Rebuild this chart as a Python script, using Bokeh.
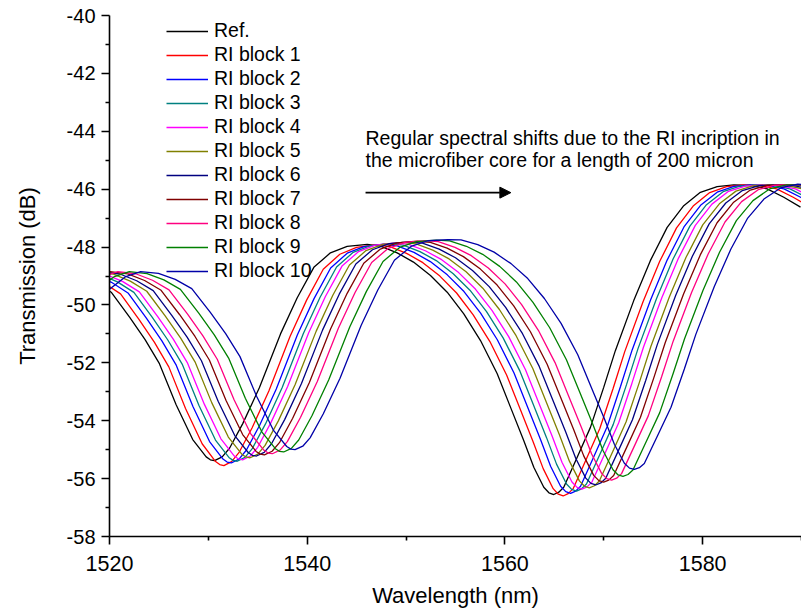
import numpy as np
from bokeh.plotting import figure
from bokeh.models import (FixedTicker, Legend, LegendItem, Label, Arrow,
                          NormalHead, Range1d)
from bokeh.embed import file_html
from bokeh.resources import INLINE

FONT = "Liberation Sans"

# ---------------- data ----------------
series_names = ["Ref.", "RI block 1", "RI block 2", "RI block 3", "RI block 4",
                "RI block 5", "RI block 6", "RI block 7", "RI block 8",
                "RI block 9", "RI block 10"]
series_colors = ["#000000", "#FF0000", "#0000FF", "#008080", "#FF00FF",
                 "#808000", "#000080", "#800000", "#FF0080", "#008000",
                 "#0000A8"]

# Reference spectrum (black curve), wavelength in nm / transmission in dB
ref_wl = [1511.5, 1513.5, 1515.0, 1516.8, 1518.5, 1520.17, 1522.03, 1523.6,
          1525.05, 1526.74, 1528.42, 1529.78, 1530.2, 1530.62, 1531.4, 1532.14,
          1533.48, 1535.17, 1537.3, 1538.99, 1540.67, 1542.35, 1544.04, 1546.07,
          1547.41, 1549.1, 1550.75, 1552.47, 1554.16, 1555.84, 1557.53, 1559.22,
          1560.56, 1561.91, 1562.92, 1563.93, 1564.45, 1564.94, 1565.45, 1565.95,
          1567.31, 1568.65, 1570.0, 1571.17, 1573.03, 1574.71, 1576.41, 1578.09,
          1579.77, 1581.47, 1583.15, 1584.83, 1586.53, 1588.21, 1589.9]
ref_tr = [-49.55, -49.02, -48.85, -48.95, -49.2, -49.56, -50.42, -51.2,
          -52.03, -53.45, -54.65, -55.25, -55.35, -55.38, -55.25, -54.95,
          -54.1, -52.85, -51.0, -49.75, -48.7, -48.2, -47.98, -47.91,
          -47.97, -48.2, -48.52, -48.98, -49.56, -50.31, -51.23, -52.38,
          -53.53, -54.69, -55.61, -56.30, -56.49, -56.55, -56.47, -56.30,
          -55.26, -54.23, -52.84, -51.58, -49.85, -48.47, -47.32, -46.57,
          -46.11, -45.91, -45.85, -45.87, -45.99, -46.28, -46.62]

# Spectral shift of every curve relative to Ref. (nm)
shift_nm = [0.0, 0.95, 1.7, 2.3, 2.85, 3.6, 4.25, 5.05, 5.85, 7.0, 8.15]
# Read levels of the features of every curve (dB)
dip1_tr = [-55.38, -55.55, -55.46, -55.40, -55.35, -55.28, -55.22, -55.18,
           -55.14, -55.08, -55.00]
peak1_tr = [-47.91, -47.92, -47.90, -47.88, -47.86, -47.84, -47.82, -47.80,
            -47.78, -47.76, -47.74]
dip2_tr = [-56.55, -56.60, -56.51, -56.43, -56.36, -56.32, -56.22, -56.12,
           -56.05, -55.92, -55.68]
# Positions of those features on the Ref. curve (nm)
feat_wl = [1515.0, 1530.62, 1546.07, 1564.94, 1583.15]

x_ticks = [1520, 1540, 1560, 1580]
x_minor = [1530, 1550, 1570, 1590]
y_ticks = [-58, -56, -54, -52, -50, -48, -46, -44, -42, -40]
y_minor = [-57, -55, -53, -51, -49, -47, -45, -43, -41]

note_lines = ["Regular spectral shifts due to the RI incription in",
              "the microfiber core for a length of 200 micron"]

# ---------------- figure ----------------
p = figure(width=801, height=613, output_backend="svg", toolbar_location=None,
           x_range=Range1d(1520, 1590), y_range=Range1d(-58, -40),
           min_border_left=109, min_border_right=0, min_border_top=15,
           min_border_bottom=77, background_fill_color="white",
           border_fill_color="white", outline_line_color=None)
p.xgrid.visible = False
p.ygrid.visible = False

rw = np.array(ref_wl)
rt = np.array(ref_tr)
renderers = []
for i, (name, col) in enumerate(zip(series_names, series_colors)):
    corr = [0.0, dip1_tr[i] - dip1_tr[0], peak1_tr[i] - peak1_tr[0],
            dip2_tr[i] - dip2_tr[0], 0.0]
    xs = rw + shift_nm[i]
    ys = rt + np.interp(rw, feat_wl, corr)
    r = p.line(xs, ys, line_color=col, line_width=1.3)
    renderers.append(r)

legend = Legend(items=[LegendItem(label=n, renderers=[r])
                       for n, r in zip(series_names, renderers)],
                location=(57, 254))
legend.label_text_font = FONT
legend.label_text_font_size = "19.5px"
legend.label_text_color = "black"
legend.glyph_width = 42
legend.glyph_height = 20
legend.label_height = 20
legend.label_standoff = 6
legend.spacing = 1
legend.padding = 0
legend.margin = 0
legend.border_line_color = None
legend.background_fill_alpha = 0
p.add_layout(legend, "center")

# axes
for ax in (p.xaxis[0], p.yaxis[0]):
    ax.axis_line_width = 1.6
    ax.major_tick_line_width = 1.6
    ax.minor_tick_line_width = 1.6
    ax.major_tick_in = 0
    ax.major_tick_out = 8
    ax.minor_tick_in = 0
    ax.minor_tick_out = 4
    ax.major_label_text_font = FONT
    ax.major_label_text_font_size = "20px"
    ax.major_label_text_color = "black"
    ax.axis_label_text_font = FONT
    ax.axis_label_text_font_size = "22px"
    ax.axis_label_text_font_style = "normal"
    ax.axis_label_text_color = "black"

p.xaxis.ticker = FixedTicker(ticks=x_ticks, minor_ticks=x_minor)
p.yaxis.ticker = FixedTicker(ticks=y_ticks, minor_ticks=y_minor)
p.xaxis.major_label_overrides = {t: str(t) for t in x_ticks}
p.yaxis.major_label_overrides = {t: str(t) for t in y_ticks}
p.xaxis.major_label_text_font_size = "21.5px"
p.xaxis.axis_label = "Wavelength (nm)"
p.yaxis.axis_label = "Transmission (dB)"
p.xaxis.major_label_standoff = 11
p.xaxis.axis_label_standoff = 9
p.yaxis.major_label_standoff = 6
p.yaxis.axis_label_standoff = 24

# annotation
note_x = 1545.9
note_y = [-44.22, -44.98]
for txt, yy in zip(note_lines, note_y):
    p.add_layout(Label(x=note_x, y=yy, text=txt, text_font=FONT,
                       text_font_size="19.5px", text_baseline="middle",
                       text_align="left", text_color="black"))
p.add_layout(Arrow(end=NormalHead(size=11, fill_color="black",
                                  line_color="black"),
                   x_start=1545.9, y_start=-46.12, x_end=1560.6, y_end=-46.12,
                   line_width=1.6, line_color="black"))

open("out.html", "w").write(file_html(p, INLINE))
